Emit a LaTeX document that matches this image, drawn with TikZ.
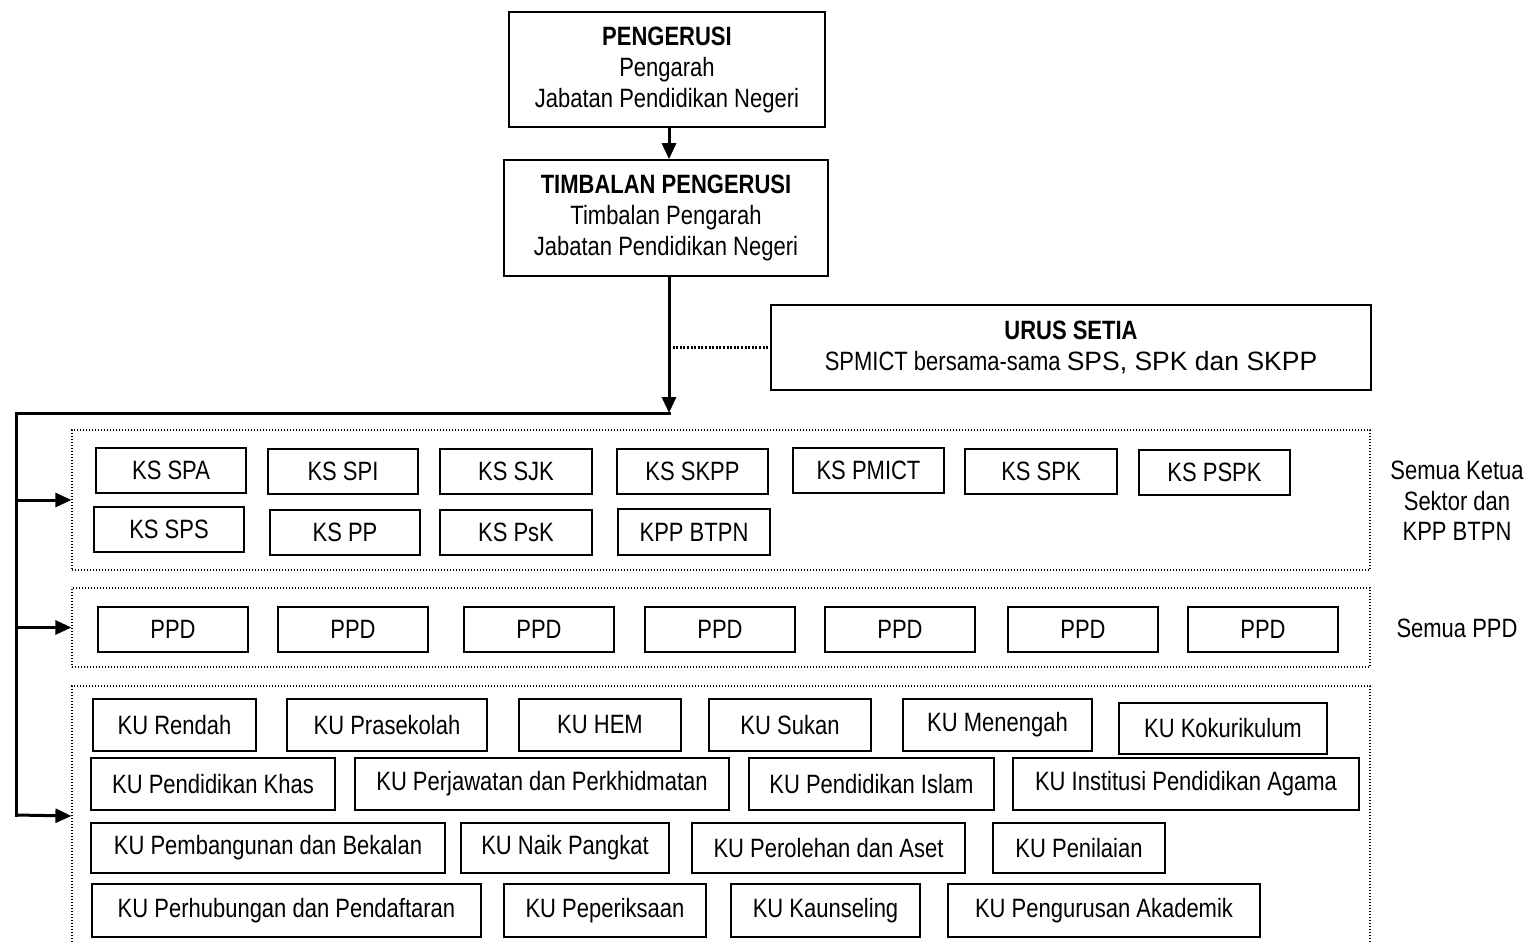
\documentclass[tikz,border=0pt]{standalone}
\usepackage{fontspec}
\setmainfont{Liberation Sans}[FakeStretch=0.83]
\newfontfamily\widefont{Liberation Sans}
\usetikzlibrary{arrows.meta}
\tikzset{
  box/.style={draw, line width=1.7pt, inner sep=0pt, align=center, font=\fontsize{26.5}{31}\selectfont},
  group/.style={draw, line width=1.2pt, dash pattern=on 1.3pt off 1.7pt, inner sep=0pt},
  link/.style={line width=3pt},
  arr/.style={line width=3pt, -{Triangle[length=16pt,width=14pt]}},
  dotlink/.style={line width=2.6pt, dash pattern=on 2pt off 1.6pt},
  lbl/.style={align=center, font=\fontsize{26.5}{30.5}\selectfont}
}
\newcommand\mybox[6]{%
  \pgfmathsetmacro\bxcx{(#2+#4)/2}\pgfmathsetmacro\bxcy{(#3+#5)/2}%
  \pgfmathsetmacro\bxw{#4-#2}\pgfmathsetmacro\bxh{#5-#3}%
  \node[box, minimum width=\bxw pt, minimum height=\bxh pt] (#1) at (\bxcx,\bxcy) {#6};}
\newcommand\mygroup[5]{%
  \pgfmathsetmacro\bxcx{(#2+#4)/2}\pgfmathsetmacro\bxcy{(#3+#5)/2}%
  \pgfmathsetmacro\bxw{#4-#2}\pgfmathsetmacro\bxh{#5-#3}%
  \node[group, minimum width=\bxw pt, minimum height=\bxh pt] (#1) at (\bxcx,\bxcy) {};}
\begin{document}
\begin{tikzpicture}[x=1pt,y=-1pt]
\useasboundingbox (0,0) rectangle (1530,944);
% top boxes
\mybox{p}{509}{12}{825}{127}{\textbf{PENGERUSI}\\Pengarah\\Jabatan Pendidikan Negeri}
\mybox{t}{504}{160}{828}{276}{\textbf{TIMBALAN PENGERUSI}\\Timbalan Pengarah\\Jabatan Pendidikan Negeri}
\mybox{u}{771}{305}{1371}{390}{\textbf{URUS SETIA}\\SPMICT bersama-sama {\widefont SPS, SPK dan SKPP}}
% groups
\mygroup{ks}{72}{430}{1370}{570}
\mygroup{ppd}{72}{588}{1370}{667}
\mygroup{ku}{72}{686}{1370}{946}
% KS boxes
\mybox{k1}{96}{448}{246}{493}{KS SPA}
\mybox{k2}{268}{449}{418}{494}{KS SPI}
\mybox{k3}{440}{449}{592}{494}{KS SJK}
\mybox{k4}{617}{449}{768}{494}{KS SKPP}
\mybox{k5}{793}{448}{944}{493}{KS PMICT}
\mybox{k6}{965}{449}{1117}{494}{KS SPK}
\mybox{k7}{1139}{450}{1290}{495}{KS PSPK}
\mybox{k8}{94}{507}{244}{552}{KS SPS}
\mybox{k9}{270}{510}{420}{555}{KS PP}
\mybox{k10}{440}{510}{592}{555}{KS PsK}
\mybox{k11}{618}{509}{770}{555}{KPP BTPN}
% PPD boxes
\mybox{d1}{98}{607}{248}{652}{PPD}
\mybox{d2}{278}{607}{428}{652}{PPD}
\mybox{d3}{464}{607}{614}{652}{PPD}
\mybox{d4}{645}{607}{795}{652}{PPD}
\mybox{d5}{825}{607}{975}{652}{PPD}
\mybox{d6}{1008}{607}{1158}{652}{PPD}
\mybox{d7}{1188}{607}{1338}{652}{PPD}
% KU boxes
\mybox{u1}{93}{699}{256}{751}{KU Rendah}
\mybox{u2}{287}{699}{487}{751}{KU Prasekolah}
\mybox{u3}{519}{699}{681}{751}{KU HEM}
\mybox{u4}{709}{699}{871}{751}{KU Sukan}
\mybox{u5}{903}{699}{1092}{751}{KU Menengah}
\mybox{u6}{1119}{703}{1327}{754}{KU Kokurikulum}
\mybox{u7}{91}{758}{335}{810}{KU Pendidikan Khas}
\mybox{u8}{355}{758}{729}{810}{KU Perjawatan dan Perkhidmatan}
\mybox{u9}{749}{758}{994}{810}{KU Pendidikan Islam}
\mybox{u10}{1013}{758}{1359}{810}{KU Institusi Pendidikan Agama}
\mybox{u11}{91}{823}{445}{873}{KU Pembangunan dan Bekalan}
\mybox{u12}{461}{823}{669}{873}{KU Naik Pangkat}
\mybox{u13}{692}{823}{965}{873}{KU Perolehan dan Aset}
\mybox{u14}{993}{823}{1165}{873}{KU Penilaian}
\mybox{u15}{92}{884}{481}{937}{KU Perhubungan dan Pendaftaran}
\mybox{u16}{504}{884}{706}{937}{KU Peperiksaan}
\mybox{u17}{731}{884}{920}{937}{KU Kaunseling}
\mybox{u18}{948}{884}{1260}{937}{KU Pengurusan Akademik}
% side labels
\node[lbl] (s1) at (1457,501) {Semua Ketua\\Sektor dan\\KPP BTPN};
\node[lbl] (s2) at (1457,628) {Semua PPD};
% connectors
\coordinate (j) at (669,413);
\coordinate (lt) at (16,413);
\coordinate (lb) at (16,815);
\draw[arr] (p.south -| j) -- (t.north -| j);
\draw[arr] (t.south -| j) -- (j);
\draw[dotlink] (j |- u.west) -- (u.west);
\draw[link, line cap=rect] (j) -- (lt) -- (lb);
\draw[arr] (lt |- ks.west) -- (ks.west);
\draw[arr] (lt |- ppd.west) -- (ppd.west);
\draw[arr] (lb) -- (ku.west);
\end{tikzpicture}
\end{document}
